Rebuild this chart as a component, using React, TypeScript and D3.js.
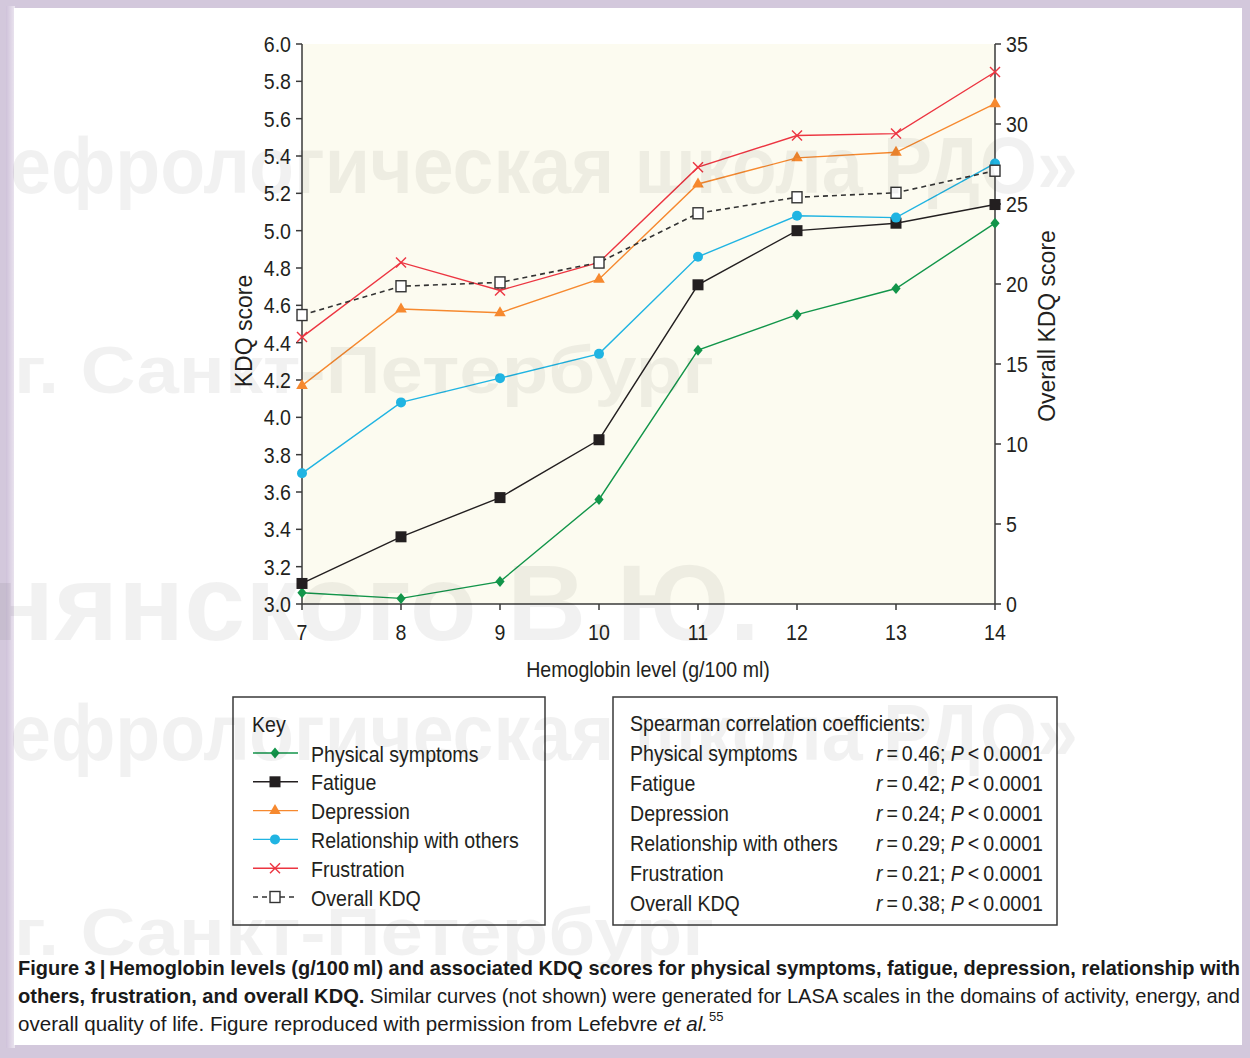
import React from "react";
import * as d3 from "d3";

// ---------- data ----------
const hemoglobin = [7, 8, 9, 10, 11, 12, 13, 14];
const physicalSymptoms = [3.06, 3.03, 3.12, 3.56, 4.36, 4.55, 4.69, 5.04];
const fatigue = [3.11, 3.36, 3.57, 3.88, 4.71, 5.0, 5.04, 5.14];
const depression = [4.17, 4.58, 4.56, 4.74, 5.25, 5.39, 5.42, 5.68];
const relationship = [3.7, 4.08, 4.21, 4.34, 4.86, 5.08, 5.07, 5.36];
const frustration = [4.43, 4.83, 4.68, 4.83, 5.34, 5.51, 5.52, 5.85];
const overallKDQ = [18.06, 19.86, 20.1, 21.34, 24.42, 25.42, 25.7, 27.08];

const leftTicks = [3.0, 3.2, 3.4, 3.6, 3.8, 4.0, 4.2, 4.4, 4.6, 4.8, 5.0, 5.2, 5.4, 5.6, 5.8, 6.0];
const rightTicks = [0, 5, 10, 15, 20, 25, 30, 35];

const seriesNames = [
  "Physical symptoms",
  "Fatigue",
  "Depression",
  "Relationship with others",
  "Frustration",
  "Overall KDQ",
];
const correlationR = ["0.46", "0.42", "0.24", "0.29", "0.21", "0.38"];
const correlationP = "0.0001";

type Marker = "diamond" | "square" | "triangle" | "circle" | "cross" | "open";
const seriesValues = [physicalSymptoms, fatigue, depression, relationship, frustration, overallKDQ];
const seriesColors = ["#12954a", "#231f20", "#f6892f", "#20b4e2", "#ec3541", "#333333"];
const seriesMarkers: Marker[] = ["diamond", "square", "triangle", "circle", "cross", "open"];
const seriesAxis = ["L", "L", "L", "L", "L", "R"];

// ---------- layout ----------
const W = 1250;
const H = 1058;
const plotL = 302;
const plotR = 995;
const plotT = 44;
const plotB = 604;
const INK = "#231f20";
const FONT = "'Liberation Sans', Arial, Helvetica, sans-serif";
const SX = 0.89;

const x = d3.scaleLinear().domain([7, 14]).range([plotL, plotR]);
const yL = d3.scaleLinear().domain([3, 6]).range([plotB, plotT]);
const yR = d3.scaleLinear().domain([0, 35]).range([plotB, plotT]);

function T(props: any) {
  const { x: tx, y: ty, size = 22, sx = SX, anchor = "start", fill = INK, children, rotate, weight, italic } = props;
  const tr = rotate
    ? `translate(${tx},${ty}) rotate(${rotate}) scale(${sx},1)`
    : `translate(${tx},${ty}) scale(${sx},1)`;
  return (
    <text
      transform={tr}
      fontSize={size}
      textAnchor={anchor}
      fill={fill}
      fontFamily={FONT}
      fontWeight={weight}
      fontStyle={italic ? "italic" : undefined}
    >
      {children}
    </text>
  );
}

function MarkerShape({ kind, cx, cy, color }: { kind: Marker; cx: number; cy: number; color: string }) {
  switch (kind) {
    case "diamond":
      return <path d={`M${cx},${cy - 5.5} L${cx + 4.6},${cy} L${cx},${cy + 5.5} L${cx - 4.6},${cy} Z`} fill={color} />;
    case "square":
      return <rect x={cx - 5.5} y={cy - 5.5} width={11} height={11} fill={color} />;
    case "triangle":
      return <path d={`M${cx},${cy - 6.5} L${cx + 5.8},${cy + 3.5} L${cx - 5.8},${cy + 3.5} Z`} fill={color} />;
    case "circle":
      return <circle cx={cx} cy={cy} r={5} fill={color} />;
    case "cross":
      return (
        <g stroke={color} strokeWidth={1.4}>
          <line x1={cx - 5} y1={cy - 5} x2={cx + 5} y2={cy + 5} />
          <line x1={cx - 5} y1={cy + 5} x2={cx + 5} y2={cy - 5} />
        </g>
      );
    case "open":
      return <rect x={cx - 5} y={cy - 5.5} width={10} height={11} fill="#fff" stroke={color} strokeWidth={1.4} />;
  }
  return null;
}

export default function App() {
  const fmt = d3.format(".1f");
  const lineGen = (scale: d3.ScaleLinear<number, number>) =>
    d3
      .line<number>()
      .x((_, i) => x(hemoglobin[i]))
      .y((d) => scale(d));

  const legendRowY = (i: number) => 753 + i * 28.8;
  const corrRowY = (i: number) => 761 + i * 30;

  const watermark = { fill: "#000", fillOpacity: 0.055, fontFamily: FONT, fontWeight: 700 } as any;

  return (
    <svg
      width={W}
      height={H}
      viewBox={`0 0 ${W} ${H}`}
      style={{ position: "absolute", left: 0, top: 0, display: "block" }}
    >
      <defs>
        <linearGradient id="edgeL" x1="0" x2="1" y1="0" y2="0">
          <stop offset="0" stopColor="#cfc2da" />
          <stop offset="1" stopColor="#ece6f0" />
        </linearGradient>
      </defs>
      {/* page frame */}
      <rect x={0} y={0} width={W} height={H} fill="#d3c8dc" />
      <rect x={6} y={6} width={9} height={1042} fill="url(#edgeL)" />
      <rect x={14} y={8} width={1228} height={1037} fill="#ffffff" />

      {/* plot background */}
      <rect x={plotL} y={plotT} width={plotR - plotL} height={plotB - plotT} fill="#fcfbf0" />

      {/* axes */}
      <g stroke="#3a3a3a" strokeWidth={1.5}>
        <line x1={plotL} y1={plotT} x2={plotL} y2={plotB} />
        <line x1={plotR} y1={plotT} x2={plotR} y2={plotB} />
        <line x1={plotL} y1={plotB} x2={plotR} y2={plotB} />
        {leftTicks.map((t) => (
          <line key={"lt" + t} x1={plotL - 6} x2={plotL} y1={yL(t)} y2={yL(t)} />
        ))}
        {rightTicks.map((t) => (
          <line key={"rt" + t} x1={plotR} x2={plotR + 6} y1={yR(t)} y2={yR(t)} />
        ))}
        {hemoglobin.map((t) => (
          <line key={"xt" + t} x1={x(t)} x2={x(t)} y1={plotB} y2={plotB + 6} />
        ))}
      </g>
      {leftTicks.map((t) => (
        <T key={"ll" + t} x={291} y={yL(t) + 8} anchor="end">
          {fmt(t)}
        </T>
      ))}
      {rightTicks.map((t) => (
        <T key={"rl" + t} x={1006} y={yR(t) + 8}>
          {t}
        </T>
      ))}
      {hemoglobin.map((t) => (
        <T key={"xl" + t} x={x(t)} y={640} anchor="middle">
          {t}
        </T>
      ))}
      <T x={648} y={677} anchor="middle">
        Hemoglobin level (g/100 ml)
      </T>
      <T x={252} y={331} anchor="middle" rotate={-90} sx={1} size={23}>
        KDQ score
      </T>
      <T x={1055} y={326} anchor="middle" rotate={-90} sx={1} size={23}>
        Overall KDQ score
      </T>

      {/* series */}
      {seriesValues.map((vals, si) => {
        const scale = seriesAxis[si] === "L" ? yL : yR;
        return (
          <g key={"s" + si}>
            <path
              d={lineGen(scale)(vals) || ""}
              fill="none"
              stroke={seriesColors[si]}
              strokeWidth={si === 5 ? 1.6 : 1.4}
              strokeDasharray={si === 5 ? "5,4" : undefined}
            />
          </g>
        );
      })}
      {seriesValues.map((vals, si) => {
        const scale = seriesAxis[si] === "L" ? yL : yR;
        return (
          <g key={"m" + si}>
            {vals.map((v, i) => (
              <MarkerShape key={i} kind={seriesMarkers[si]} cx={x(hemoglobin[i])} cy={scale(v)} color={seriesColors[si]} />
            ))}
          </g>
        );
      })}

      {/* legend box */}
      <rect x={233} y={697} width={312} height={228} fill="none" stroke="#3a3a3a" strokeWidth={1.5} />
      <T x={252} y={732}>Key</T>
      {seriesNames.map((name, i) => (
        <g key={"lg" + i}>
          <line
            x1={253}
            x2={298}
            y1={legendRowY(i)}
            y2={legendRowY(i)}
            stroke={seriesColors[i]}
            strokeWidth={1.4}
            strokeDasharray={i === 5 ? "5,4" : undefined}
          />
          <MarkerShape kind={seriesMarkers[i]} cx={275} cy={legendRowY(i)} color={seriesColors[i]} />
          <T x={311} y={legendRowY(i) + 8.5}>
            {name}
          </T>
        </g>
      ))}

      {/* correlation box */}
      <rect x={613} y={697} width={444} height={228} fill="none" stroke="#3a3a3a" strokeWidth={1.5} />
      <T x={630} y={731}>Spearman correlation coefficients:</T>
      {seriesNames.map((name, i) => (
        <g key={"cr" + i}>
          <T x={630} y={corrRowY(i)}>
            {name}
          </T>
          <T x={1043} y={corrRowY(i)} anchor="end">
            <tspan fontStyle="italic">r</tspan>
            {"\u2009=\u2009" + correlationR[i] + "; "}
            <tspan fontStyle="italic">P</tspan>
            {"\u2009<\u2009" + correlationP}
          </T>
        </g>
      ))}

      {/* caption */}
      <g fontFamily="'Liberation Sans Narrow', 'Liberation Sans', Arial, sans-serif" fontSize={21} fill="#1a1a1a">
        <text x={18} y={975} textLength={1222} lengthAdjust="spacingAndGlyphs" fontWeight={700}>
          {"Figure 3\u2009|\u2009Hemoglobin levels (g/100\u2009ml) and associated KDQ scores for physical symptoms, fatigue, depression, relationship with"}
        </text>
        <text x={18} y={1003} textLength={1222} lengthAdjust="spacingAndGlyphs">
          <tspan fontWeight={700}>others, frustration, and overall KDQ.</tspan>
          {" Similar curves (not shown) were generated for LASA scales in the domains of activity, energy, and"}
        </text>
        <text x={18} y={1031} textLength={690} lengthAdjust="spacingAndGlyphs">
          {"overall quality of life. Figure reproduced with permission from Lefebvre "}
          <tspan fontStyle="italic">et al.</tspan>
        </text>
        <text x={709} y={1021} fontSize={13}>
          55
        </text>
      </g>

      {/* watermark */}
      <g {...watermark} pointerEvents="none">
        <text x={10} y={193} fontSize={80} textLength={1068} lengthAdjust="spacingAndGlyphs">
          ефрологическая школа РДО»
        </text>
        <text x={14} y={393} fontSize={67} textLength={700} lengthAdjust="spacingAndGlyphs">
          г. Санкт-Петербург
        </text>
        <text x={-12} y={640} fontSize={108} textLength={772} lengthAdjust="spacingAndGlyphs">
          нянского В.Ю.
        </text>
        <text x={10} y={760} fontSize={80} textLength={1068} lengthAdjust="spacingAndGlyphs">
          ефрологическая школа РДО»
        </text>
        <text x={14} y={955} fontSize={67} textLength={700} lengthAdjust="spacingAndGlyphs">
          г. Санкт-Петербург
        </text>
      </g>
    </svg>
  );
}
